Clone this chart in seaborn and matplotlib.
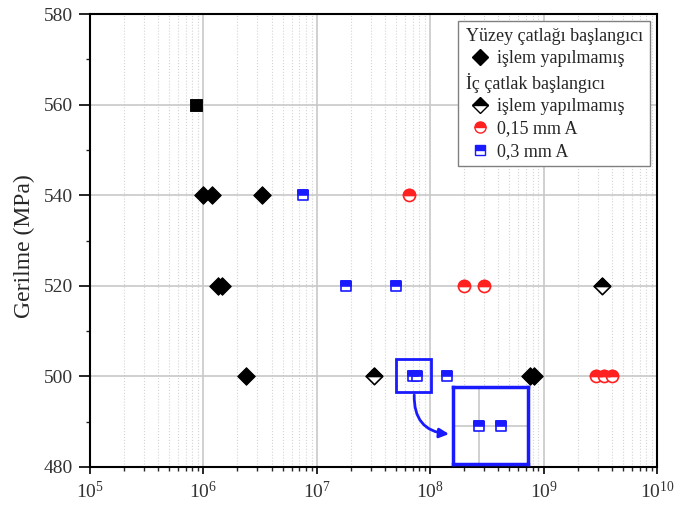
import numpy as np
import pandas as pd
import matplotlib
matplotlib.use("Agg")
import matplotlib.pyplot as plt
import seaborn as sns
from matplotlib.lines import Line2D
from matplotlib.markers import MarkerStyle
from matplotlib.patches import Rectangle, FancyArrowPatch
from matplotlib.ticker import MultipleLocator, LogLocator, NullFormatter

# Yüzey çatlağı başlangıcı - işlem yapılmamış (dolu elmas)
yuzey_N = [1.0e6, 1.2e6, 3.3e6, 1.35e6, 1.45e6, 2.4e6, 7.6e8, 8.2e8]
yuzey_S = [540, 540, 540, 520, 520, 500, 500, 500]

# 560 MPa'daki dolu kare
kare_N = [8.7e5]
kare_S = [560]

# İç çatlak başlangıcı - işlem yapılmamış (yarım elmas)
ic_N = [3.2e7, 3.3e9]
ic_S = [500, 520]

# İç çatlak - 0,15 mm A (kırmızı yarım daire)
a015_N = [6.5e7, 2.0e8, 3.0e8, 2.9e9, 3.4e9, 4.0e9]
a015_S = [540, 520, 520, 500, 500, 500]

# İç çatlak - 0,3 mm A (mavi yarım kare)
a03_N = [7.6e6, 1.8e7, 5.0e7, 7.0e7, 7.6e7, 1.4e8]
a03_S = [540, 520, 520, 500, 500, 500]

y_ticks = [480, 500, 520, 540, 560, 580]

sns.set_style("white")
plt.rcParams["font.family"] = ["Liberation Serif", "DejaVu Serif"]
plt.rcParams["mathtext.fontset"] = "stix"

RED = "#ff2020"
BLUE = "#1a1aff"


def yarim(ax, N, S, marker, color, size):
    # alt yarısı beyaz, üst yarısı dolu işaretçi
    df = pd.DataFrame({"N": N, "S": S})
    sns.scatterplot(data=df, x="N", y="S", ax=ax, marker=marker, s=size,
                    color="white", edgecolor=color, linewidth=1.2, zorder=3)
    sns.scatterplot(data=df, x="N", y="S", ax=ax,
                    marker=MarkerStyle(marker, fillstyle="top"), s=size,
                    color=color, edgecolor=color, linewidth=1.2, zorder=4)


fig, ax = plt.subplots(figsize=(6.76, 5.08), dpi=100)
fig.subplots_adjust(left=0.133, right=0.972, bottom=0.081, top=0.972)
ax.set_xscale("log")

sns.scatterplot(x=yuzey_N, y=yuzey_S, ax=ax, marker="D", s=80,
                color="black", edgecolor="black", zorder=3)
sns.scatterplot(x=kare_N, y=kare_S, ax=ax, marker="s", s=65,
                color="black", edgecolor="black", zorder=3)
yarim(ax, ic_N, ic_S, "D", "black", 70)
yarim(ax, a015_N, a015_S, "o", RED, 75)
yarim(ax, a03_N, a03_S, "s", BLUE, 55)

ax.set_xlim(1e5, 1e10)
ax.set_ylim(480, 580)
ax.set_yticks(y_ticks)
ax.yaxis.set_minor_locator(MultipleLocator(10))
ax.xaxis.set_major_locator(LogLocator(base=10, numticks=10))
ax.xaxis.set_minor_locator(LogLocator(base=10, subs=np.arange(2, 10), numticks=100))
ax.xaxis.set_minor_formatter(NullFormatter())

ax.grid(which="major", color="#c8c8c8", lw=1.2)
ax.grid(which="minor", axis="x", color="#d4d4d4", ls=":", lw=0.8)
ax.set_axisbelow(True)

for sp in ax.spines.values():
    sp.set_color("black")
    sp.set_linewidth(1.5)

ax.tick_params(which="major", direction="out", width=1.2,
               labelsize=14, bottom=True, left=True, colors="black")
ax.tick_params(axis="y", which="major", length=8, pad=4, labelcolor="#333333")
ax.tick_params(axis="x", which="major", length=5, pad=5, labelcolor="#333333")
ax.tick_params(which="minor", direction="out", length=3, width=1,
               bottom=True, left=True)

ax.set_xlabel("")
ax.set_ylabel("Gerilme (MPa)", fontsize=17)
ax.yaxis.set_label_coords(-0.097, 0.488)

# yakınlaştırma çerçevesi ve ok
ax.add_patch(Rectangle((10**7.70, 496.5), 10**8.01 - 10**7.70, 7.3,
                       fill=False, edgecolor=BLUE, lw=2, zorder=5))
ax.add_patch(FancyArrowPatch((10**7.86, 496.5), (10**8.19, 487.2),
                             connectionstyle="arc3,rad=0.5", arrowstyle="-|>",
                             mutation_scale=14, color=BLUE, lw=2, zorder=5))

ins = ax.inset_axes([10**8.2, 480.6, 10**8.86 - 10**8.2, 17],
                    transform=ax.transData, zorder=6)
ins.set_xscale("log")
ins.axvline(7.0e7, color="#c8c8c8", lw=1.2, zorder=1)
ins.axhline(500, color="#c8c8c8", lw=1.2, zorder=1)
yarim(ins, a03_N[3:5], a03_S[3:5], "s", BLUE, 55)
ins.set_xlim(10**7.803, 10**7.923)
ins.set_ylim(496.5, 503.5)
ins.set_xticks([])
ins.set_yticks([])
ins.minorticks_off()
ins.set_xlabel("")
ins.set_ylabel("")
for sp in ins.spines.values():
    sp.set_color(BLUE)
    sp.set_linewidth(2.5)

# lejant
bos = Line2D([], [], ls="none")
handles = [
    bos,
    Line2D([], [], ls="none", marker="D", color="black", markersize=8),
    bos,
    Line2D([], [], ls="none", marker="D", color="black", fillstyle="top",
           markerfacecoloralt="white", markersize=8),
    Line2D([], [], ls="none", marker="o", color=RED, fillstyle="top",
           markerfacecoloralt="white", markersize=8),
    Line2D([], [], ls="none", marker="s", color=BLUE, fillstyle="top",
           markerfacecoloralt="white", markersize=7),
]
labels = ["Yüzey çatlağı başlangıcı", "işlem yapılmamış",
          "İç çatlak başlangıcı", "işlem yapılmamış",
          "0,15 mm A", "0,3 mm A"]
leg = ax.legend(handles, labels, loc="upper right", fontsize=13,
                frameon=True, fancybox=False, framealpha=1, edgecolor="gray",
                handlelength=1.7, handletextpad=0.1, labelspacing=0.3,
                borderaxespad=0.4, borderpad=0.35)
leg.get_frame().set_linewidth(1)
leg.set_zorder(10)
for vpack in leg._legend_handle_box.get_children():
    for i, hpack in enumerate(vpack.get_children()):
        if i in (0, 2):
            hpack.get_children()[0].set_width(0)

fig.savefig("out.png", dpi=100)
